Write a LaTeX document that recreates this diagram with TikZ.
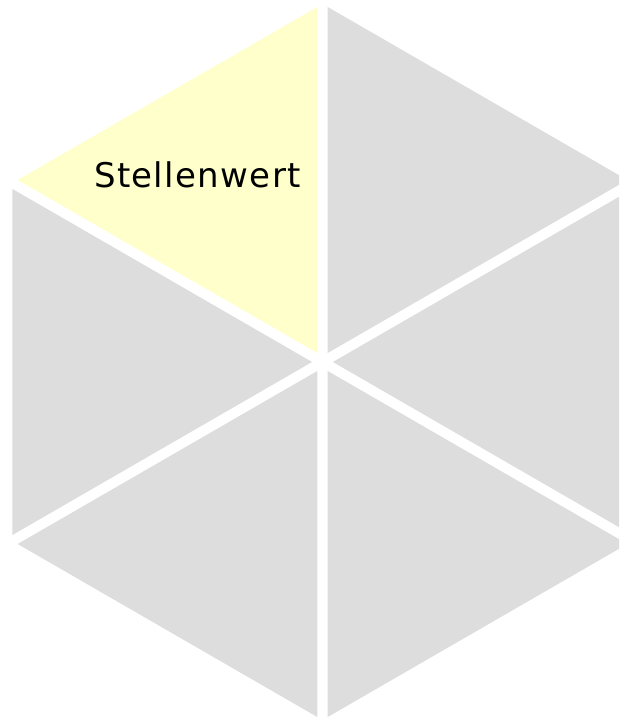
\documentclass[tikz,border=0pt]{standalone}
\usepackage{fontspec}
\setmainfont{DejaVu Sans}
\usetikzlibrary{positioning}
\definecolor{cFace}{RGB}{221,221,221}
\definecolor{cHi}  {RGB}{255,255,204}
\tikzset{
  face/.style = {draw=none},
  lbl/.style  = {font=\fontsize{34}{40}\selectfont\addfontfeatures{LetterSpace=4},
                 inner sep=0pt, anchor=base, text=black},
}
\begin{document}
\begin{tikzpicture}[x=1pt,y=1pt]
  \useasboundingbox (0,0) rectangle (619,717);
  \clip (0,0) rectangle (619,717);

  %% six exploded wedges of the hexagon
  \foreach \a/\c in {90/cHi,150/cFace,210/cFace,270/cFace,330/cFace,30/cFace}{
    \fill[face, fill=\c, shift={(\a+30:10.4)}]
      (322.5,355) -- +(\a:346) -- +(\a+60:346) -- cycle;
  }

  \node[lbl] (val) at (197.5,529) {Stellenwert};
\end{tikzpicture}
\end{document}
